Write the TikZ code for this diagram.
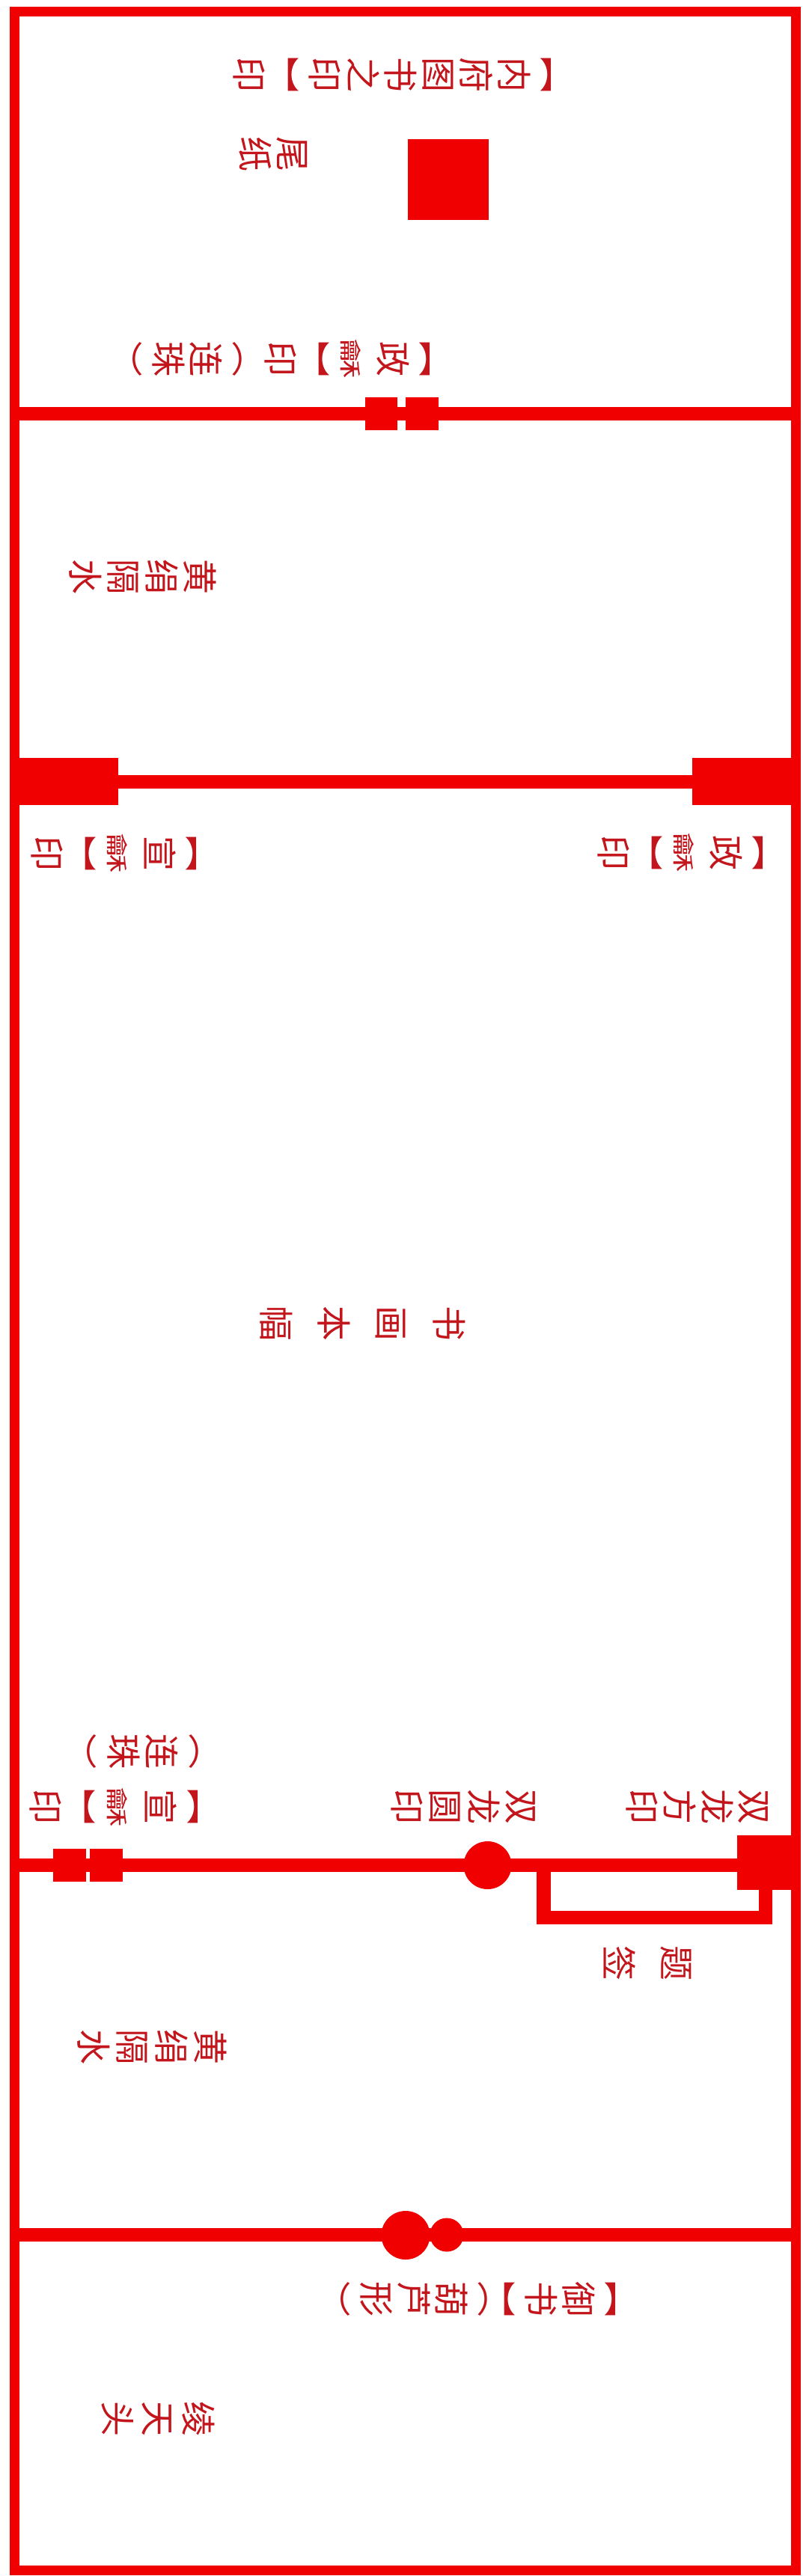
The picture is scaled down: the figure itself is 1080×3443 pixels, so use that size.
\documentclass[tikz,border=0pt]{standalone}
\usepackage{fontspec}
\usepackage{graphicx}
\newfontfamily\cjk{Noto Sans CJK SC}
\definecolor{sealred}{RGB}{240,0,0}
\definecolor{txtred}{RGB}{195,22,28}
\newcommand{\he}{\scalebox{1.15}[0.62]{龢}}
\newcommand{\obr}[1]{\vphantom{印}\smash{\raisebox{0.15em}{#1}}}
\newcommand{\cbr}[1]{\vphantom{印}\smash{\raisebox{-0.15em}{#1}}}
\newcommand{\LB}{\obr{︻}}
\newcommand{\RB}{\cbr{︼}}
\newcommand{\LP}{\obr{︵}}
\newcommand{\RP}{\cbr{︶}}
\begin{document}
\begin{tikzpicture}[x=1pt,y=-1pt,
  lbl/.style={rotate=-90, inner sep=0pt, text=txtred, align=center,
              font=\cjk\fontsize{47}{#1}\selectfont},
  lbl/.default=50,
  frameline/.style={draw=sealred, line width=13pt},
  rodline/.style={draw=sealred, line width=18.5pt},
  seal/.style={fill=sealred}]
\fill[white] (0,0) rectangle (1080,3443);
\useasboundingbox (0,0) rectangle (1080,3443);

% outer frame
\draw[frameline] (19,15) rectangle (1063,3435);

% dividing lines
\draw[rodline] (19,553) -- (1063,553);
\draw[rodline] (19,1045) -- (1063,1045);
\draw[rodline] (19,2493) -- (1063,2493);
\draw[rodline] (19,2987) -- (1063,2987);

% seals
\fill[seal] (545,186) rectangle (653,294);
\fill[seal] (488,531) rectangle (531,575);
\fill[seal] (542,531) rectangle (586,575);
\fill[seal] (25,1013) rectangle (158,1076);
\fill[seal] (925,1013) rectangle (1060,1076);
\fill[seal] (71,2471) rectangle (115,2515);
\fill[seal] (120,2471) rectangle (164,2515);
\fill[seal] (651.5,2493) circle[radius=32pt];
\fill[seal] (985,2453) rectangle (1062,2526);
\draw[rodline] (726.5,2493) -- (726.5,2563) -- (1023,2563) -- (1023,2515);
\fill[seal] (542,2987.5) circle[radius=32.5pt];
\fill[seal] (597,2987) circle[radius=22.5pt];

% labels (vertical text, turned clockwise)
\node[lbl=50.5] (t1) at (535,100) {\LB\\内\\府\\图\\书\\之\\印\\\RB\\印};
\node[lbl] (t2) at (365,206) {尾\\纸};
\node[lbl] (t3) at (375,480) {\LB\\政\\\he\\\RB\\印\\\LP\\连\\珠\\\RP};
\node[lbl=51] (t4) at (191,771) {黄\\绢\\隔\\水};
\node[lbl] (t5) at (163,1141) {\LB\\宣\\\he\\\RB\\印};
\node[lbl] (t6) at (920,1140) {\LB\\政\\\he\\\RB\\印};
\node[lbl=77] (t7) at (485,1769) {书\\画\\本\\幅};
\node[lbl=51] (t8a) at (163,2415) {\LB\\宣\\\he\\\RB\\印};
\node[lbl=51] (t8b) at (190,2341) {\LP\\连\\珠\\\RP};
\node[lbl=51] (t9) at (619,2415) {双\\龙\\圆\\印};
\node[lbl] (t10) at (932,2415) {双\\龙\\方\\印};
\node[lbl=77] (t11) at (865,2624) {题\\签};
\node[lbl=52] (t12) at (203,2736) {黄\\绢\\隔\\水};
\node[lbl] (t13a) at (748,3073) {\LB\\御\\书\\\RB};
\node[lbl] (t13b) at (553,3073) {\LP\\葫\\芦\\形\\\RP};
\node[lbl=54] (t14) at (211,3233) {绫\\天\\头};
\end{tikzpicture}
\end{document}
